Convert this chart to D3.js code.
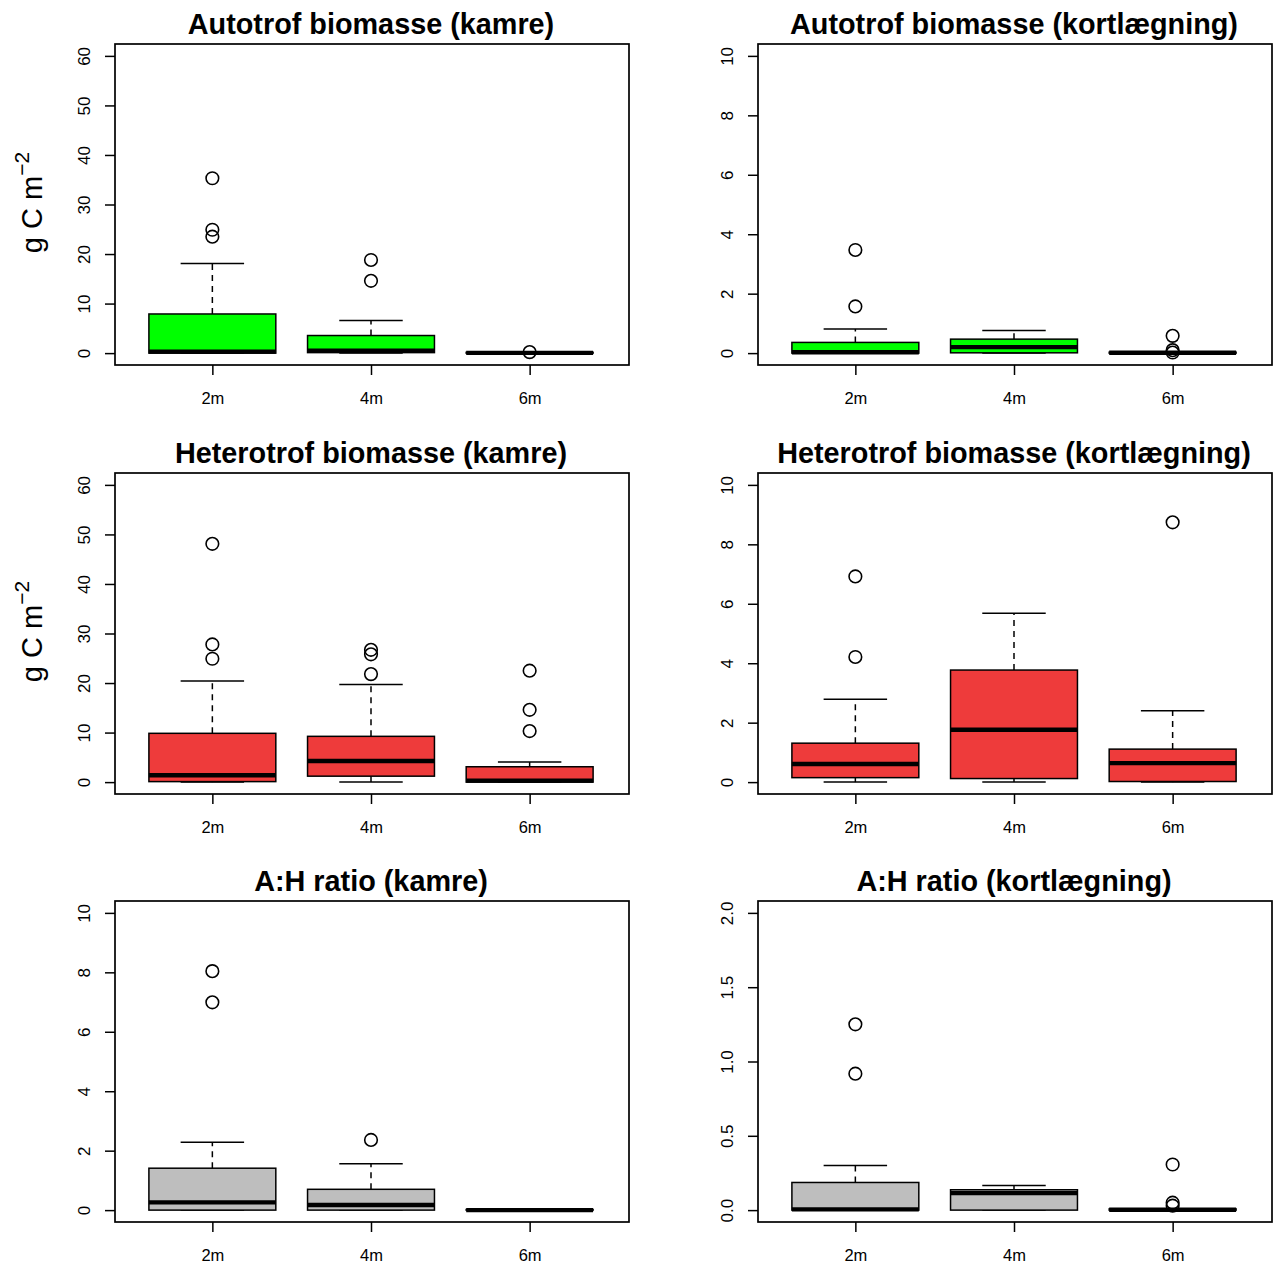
<!DOCTYPE html>
<html>
<head>
<meta charset="utf-8">
<script src="https://cdn.jsdelivr.net/npm/d3@7"></script>
<style>
  html, body { margin: 0; padding: 0; background: #fff; }
  svg { display: block; font-family: "Liberation Sans", Arial, Helvetica, sans-serif; }
</style>
</head>
<body>
<svg id="chart" width="1273" height="1267"></svg>
<script>
// Depth categories on the x axis
const depths = ["2m", "4m", "6m"];

// Box statistics per depth: [lower whisker, Q1, median, Q3, upper whisker]
const autoKamre      = [[0, 0, 0.3, 7.9, 18.1], [0, 0.1, 0.5, 3.55, 6.6], [0, 0, 0.05, 0.15, 0.15]];
const autoKamreOut   = [[35.3, 24.9, 23.5], [18.8, 14.6], [0.2]];

const autoKort       = [[0, 0, 0.03, 0.36, 0.81], [0, 0.01, 0.2, 0.47, 0.76], [0, 0, 0.01, 0.03, 0.03]];
const autoKortOut    = [[3.47, 1.57], [], [0.58, 0.1, 0.02]];

const hetKamre       = [[0, 0.1, 1.4, 9.85, 20.4], [0, 1.2, 4.25, 9.24, 19.7], [0, 0, 0.3, 3.1, 4.05]];
const hetKamreOut    = [[48.1, 27.8, 24.9], [26.7, 25.8, 21.8], [22.5, 14.6, 10.3]];

const hetKort        = [[0, 0.15, 0.61, 1.31, 2.79], [0, 0.12, 1.76, 3.77, 5.68], [0, 0.02, 0.64, 1.11, 2.40]];
const hetKortOut     = [[6.92, 4.21], [], [8.74]];

const ratioKamre     = [[0, 0, 0.26, 1.41, 2.28], [0, 0, 0.17, 0.70, 1.56], [0, 0, 0, 0.02, 0.02]];
const ratioKamreOut  = [[8.04, 6.99], [2.36], []];

const ratioKort      = [[0, 0, 0.005, 0.186, 0.30], [0, 0, 0.114, 0.137, 0.166], [0, 0, 0.002, 0.008, 0.008]];
const ratioKortOut   = [[1.25, 0.918], [], [0.307, 0.05, 0.03]];

// Y axis ticks and labels
const ticksBiomass   = [0, 10, 20, 30, 40, 50, 60];
const ticksTen       = [0, 2, 4, 6, 8, 10];
const ticksRatioKort = [0, 0.5, 1.0, 1.5, 2.0];
const labelsRatioKort = ["0.0", "0.5", "1.0", "1.5", "2.0"];

// Panel titles
const titles = [
  "Autotrof biomasse (kamre)", "Autotrof biomasse (kortlægning)",
  "Heterotrof biomasse (kamre)", "Heterotrof biomasse (kortlægning)",
  "A:H ratio (kamre)", "A:H ratio (kortlægning)"
];

const colGreen = "#00ff00", colRed = "#ee3b3b", colGrey = "#bebebe";

// Panel table built from the arrays above
const panels = [
  { title: titles[0], stats: autoKamre,  out: autoKamreOut,  ylim: [0, 60], ticks: ticksBiomass, fmt: d => d, fill: colGreen, row: 0, col: 0, ylab: true },
  { title: titles[1], stats: autoKort,   out: autoKortOut,   ylim: [0, 10], ticks: ticksTen,     fmt: d => d, fill: colGreen, row: 0, col: 1, ylab: false },
  { title: titles[2], stats: hetKamre,   out: hetKamreOut,   ylim: [0, 60], ticks: ticksBiomass, fmt: d => d, fill: colRed,   row: 1, col: 0, ylab: true },
  { title: titles[3], stats: hetKort,    out: hetKortOut,    ylim: [0, 10], ticks: ticksTen,     fmt: d => d, fill: colRed,   row: 1, col: 1, ylab: false },
  { title: titles[4], stats: ratioKamre, out: ratioKamreOut, ylim: [0, 10], ticks: ticksTen,     fmt: d => d, fill: colGrey,  row: 2, col: 0, ylab: false },
  { title: titles[5], stats: ratioKort,  out: ratioKortOut,  ylim: [0, 2],  ticks: ticksRatioKort, fmt: (d, i) => labelsRatioKort[i], fill: colGrey, row: 2, col: 1, ylab: false }
];

// Layout of the 3 x 2 grid of plot regions
const colX = [115, 758];
const rowY = [44, 473, 901];
const plotW = 514, plotH = 321;
const tickLen = 10;
const lw = 1.5;

const svg = d3.select("#chart");

panels.forEach(p => {
  const x0 = colX[p.col], y0 = rowY[p.row];
  const span = p.ylim[1] - p.ylim[0];
  const y = d3.scaleLinear()
    .domain([p.ylim[0] - 0.04 * span, p.ylim[1] + 0.04 * span])
    .range([y0 + plotH, y0]);
  // category positions 1..3 within the plot region
  const x = d3.scaleLinear().domain([0.38, 3.62]).range([x0 - 1, x0 + plotW - 1]);

  const g = svg.append("g");

  // Y axis (ticks with rotated labels)
  const yAxis = g.append("g")
    .attr("transform", `translate(${x0},0)`)
    .call(d3.axisLeft(y).tickValues(p.ticks).tickSize(tickLen).tickFormat(p.fmt));
  yAxis.select(".domain").remove();
  yAxis.selectAll(".tick line").attr("stroke", "#000").attr("stroke-width", lw);
  yAxis.selectAll(".tick text")
    .attr("x", null).attr("dy", null)
    .attr("text-anchor", "middle")
    .attr("transform", "translate(-25,0) rotate(-90)")
    .attr("font-size", 17)
    .attr("font-family", "Liberation Sans, Arial, sans-serif")
    .attr("fill", "#000");

  // X axis (depth categories)
  const xAxis = g.append("g")
    .attr("transform", `translate(0,${y0 + plotH})`)
    .call(d3.axisBottom(x).tickValues([1, 2, 3]).tickSize(tickLen).tickFormat(d => depths[d - 1]));
  xAxis.select(".domain").remove();
  xAxis.selectAll(".tick line").attr("stroke", "#000").attr("stroke-width", lw);
  xAxis.selectAll(".tick text")
    .attr("y", 39).attr("dy", null)
    .attr("font-size", 16.5)
    .attr("font-family", "Liberation Sans, Arial, sans-serif")
    .attr("fill", "#000");

  // Boxes
  p.stats.forEach((s, i) => {
    const c = i + 1;
    const [lo, q1, med, q3, hi] = s;
    const bx0 = x(c - 0.4), bx1 = x(c + 0.4);
    const sx0 = x(c - 0.2), sx1 = x(c + 0.2);
    const bg = g.append("g");

    // dashed whiskers
    bg.append("line").attr("x1", x(c)).attr("x2", x(c)).attr("y1", y(q3)).attr("y2", y(hi))
      .attr("stroke", "#000").attr("stroke-width", lw).attr("stroke-dasharray", "6,5");
    bg.append("line").attr("x1", x(c)).attr("x2", x(c)).attr("y1", y(q1)).attr("y2", y(lo))
      .attr("stroke", "#000").attr("stroke-width", lw).attr("stroke-dasharray", "6,5");
    // staples
    bg.append("line").attr("x1", sx0).attr("x2", sx1).attr("y1", y(hi)).attr("y2", y(hi))
      .attr("stroke", "#000").attr("stroke-width", lw);
    bg.append("line").attr("x1", sx0).attr("x2", sx1).attr("y1", y(lo)).attr("y2", y(lo))
      .attr("stroke", "#000").attr("stroke-width", lw);
    // box
    bg.append("rect")
      .attr("x", bx0).attr("y", y(q3))
      .attr("width", bx1 - bx0).attr("height", Math.max(0, y(q1) - y(q3)))
      .attr("fill", p.fill).attr("stroke", "#000").attr("stroke-width", lw);
    // median
    bg.append("line").attr("x1", bx0).attr("x2", bx1).attr("y1", y(med)).attr("y2", y(med))
      .attr("stroke", "#000").attr("stroke-width", 4.4);
    // outliers
    bg.selectAll("circle.out").data(p.out[i]).enter().append("circle")
      .attr("class", "out")
      .attr("cx", x(c)).attr("cy", d => y(d)).attr("r", 6.3)
      .attr("fill", "none").attr("stroke", "#000").attr("stroke-width", 1.6);
  });

  // Plot frame
  g.append("rect")
    .attr("x", x0).attr("y", y0).attr("width", plotW).attr("height", plotH)
    .attr("fill", "none").attr("stroke", "#000").attr("stroke-width", 1.7);

  // Title
  g.append("text")
    .attr("x", x0 + plotW / 2 - 1).attr("y", y0 - 10)
    .attr("text-anchor", "middle")
    .attr("font-size", 28.8).attr("font-weight", "bold")
    .attr("fill", "#000")
    .text(p.title);

  // Y axis label: g C m^-2
  if (p.ylab) {
    const t = g.append("text")
      .attr("text-anchor", "middle")
      .attr("transform", `translate(42,${y0 + plotH / 2 - 2}) rotate(-90)`)
      .attr("font-size", 29).attr("fill", "#000");
    t.append("tspan").text("g C m");
    t.append("tspan").attr("dy", -13).attr("font-size", 21).text("\u22122");
  }
});
</script>
</body>
</html>
